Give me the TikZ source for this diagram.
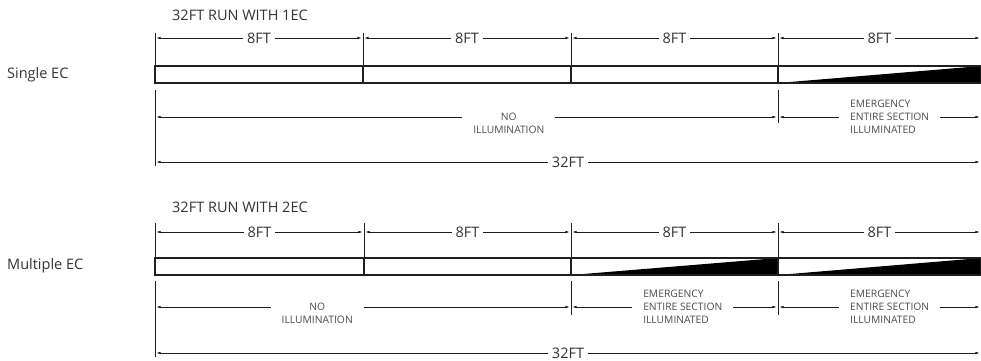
\documentclass[tikz,border=0pt]{standalone}
\usepackage{fontspec}
\setmainfont{Open Sans}
\usepackage{xcolor}
\definecolor{inkgrey}{gray}{0.2}
\definecolor{notegrey}{gray}{0.3}
\definecolor{linegrey}{gray}{0.12}
\usetikzlibrary{arrows.meta}

\begin{document}
\begin{tikzpicture}[
    x=1pt, y=-1pt,
    every node/.style={font=\fontsize{14.5}{17}\selectfont, text=inkgrey, inner sep=0pt},
    bar/.style={draw=linegrey, line width=1.8pt},
    tick/.style={draw=linegrey, line width=1pt},
    dim/.style={draw=linegrey, line width=0.7pt, {Latex[length=4.5pt,width=2.6pt]}-{Latex[length=4.5pt,width=2.6pt]}, shorten <=1.2pt, shorten >=1.2pt},
    dimlabel/.style={fill=white, inner xsep=4pt, inner ysep=1pt},
    note/.style={font=\fontsize{10.3}{13}\selectfont, text=notegrey, align=left, fill=white, inner xsep=11pt, inner ysep=1pt}
]
\useasboundingbox (0,0) rectangle (981,360);

% Run with a single EC
\node[anchor=west] (singlelbl) at (7,75) {Single EC};
\node[anchor=west] (singlettl) at (172,15) {32FT RUN WITH 1EC};

\foreach \x [count=\i from 0] in {155,363,571,778,981}{
  \coordinate (at\i) at (\x,33);
  \coordinate (ad\i) at (\x,38);
  \coordinate (ar\i) at (\x,66);
  \coordinate (ab\i) at (\x,83);
  \coordinate (al\i) at (\x,90);
  \coordinate (an\i) at (\x,117);
  \coordinate (af\i) at (\x,162);
}
\coordinate (ae0) at (155,166);
\coordinate (ae3) at (778,123);

\fill[black] (ab3) -- (ab4) -- (ar4) -- cycle;
\draw[bar] (ar0) rectangle (ab4);
\foreach \i in {1,2,3} \draw[bar] (ar\i) -- (ab\i);
\foreach \i in {0,...,3} \draw[tick] (at\i) -- (ar\i);
\draw[tick] (al0) -- (ae0);
\draw[tick] (al3) -- (ae3);

\foreach \i [evaluate=\i as \j using int(\i+1)] in {0,...,3}
  \draw[dim] (ad\i) -- node[dimlabel] {8FT} (ad\j);
\draw[dim] (an0) -- node[note, align=center, pos=0.568, yshift=-6.5pt] {NO\\ILLUMINATION} (an3);
\draw[dim] (an3) -- node[note, pos=0.55] {EMERGENCY\\ENTIRE SECTION\\ILLUMINATED} (an4);
\draw[dim] (af0) -- node[dimlabel] {32FT} (af4);

% Run with multiple EC
\node[anchor=west] (multilbl) at (7,266) {Multiple EC};
\node[anchor=west] (multittl) at (172,207) {32FT RUN WITH 2EC};

\foreach \x [count=\i from 0] in {155,364,571,778,981}{
  \coordinate (bt\i) at (\x,223);
  \coordinate (bd\i) at (\x,232);
  \coordinate (br\i) at (\x,258);
  \coordinate (bb\i) at (\x,275);
  \coordinate (bl\i) at (\x,281);
  \coordinate (bn\i) at (\x,307);
  \coordinate (bf\i) at (\x,353);
}
\coordinate (be0) at (155,357);
\coordinate (be2) at (571,315);
\coordinate (be3) at (778,315);

\fill[black] (bb2) -- (bb3) -- (br3) -- cycle;
\fill[black] (bb3) -- (bb4) -- (br4) -- cycle;
\draw[bar] (br0) rectangle (bb4);
\foreach \i in {1,2,3} \draw[bar] (br\i) -- (bb\i);
\foreach \i in {0,...,3} \draw[tick] (bt\i) -- (br\i);
\foreach \i in {0,2,3} \draw[tick] (bl\i) -- (be\i);

\foreach \i [evaluate=\i as \j using int(\i+1)] in {0,...,3}
  \draw[dim] (bd\i) -- node[dimlabel] {8FT} (bd\j);
\draw[dim] (bn0) -- node[note, align=center, pos=0.39, yshift=-6.5pt] {NO\\ILLUMINATION} (bn2);
\draw[dim] (bn2) -- node[note, pos=0.54] {EMERGENCY\\ENTIRE SECTION\\ILLUMINATED} (bn3);
\draw[dim] (bn3) -- node[note, pos=0.55] {EMERGENCY\\ENTIRE SECTION\\ILLUMINATED} (bn4);
\draw[dim] (bf0) -- node[dimlabel] {32FT} (bf4);
\end{tikzpicture}
\end{document}
